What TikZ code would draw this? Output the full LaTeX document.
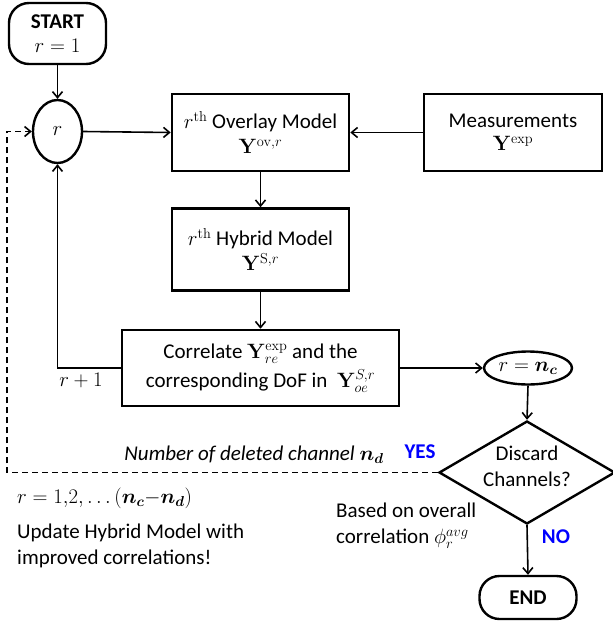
\documentclass[tikz,border=0pt]{standalone}
\usepackage{amsmath}
\usepackage[no-math]{fontspec}
\setmainfont{Carlito}
\usetikzlibrary{shapes.geometric,arrows.meta}
\begin{document}
\begin{tikzpicture}[x=1pt,y=-1pt,
  every node/.style={font=\fontsize{21}{26}\selectfont, inner sep=0pt},
  procbox/.style={draw, line width=2.6pt, rectangle, align=center},
  term/.style={draw, line width=2.4pt, rectangle, rounded corners=20pt, align=center},
  oval/.style={draw, line width=2.4pt, ellipse},
  decide/.style={draw, line width=2.4pt, diamond},
  arr/.style={line width=1.6pt, -{Straight Barb[length=6pt,width=10pt]}},
  lbl/.style={align=left},
  answer/.style={text=blue, font=\fontsize{21}{26}\selectfont\bfseries}
]
\useasboundingbox (0,0) rectangle (613,624);

\node[term, minimum width=97pt, minimum height=61pt] (start) at (57.5,33.5) {\textbf{START}\\[-2pt]$r=1$};
\node[oval, minimum width=49pt, minimum height=63pt] (r) at (57.5,131.5) {$r$};
\node[procbox, minimum width=177pt, minimum height=77pt] (ov) at (260.5,132.5)
  {$r^{\mathrm{th}}$ Overlay Model\\[-1pt]$\mathbf{Y}^{\mathrm{ov},r}$};
\node[procbox, minimum width=178pt, minimum height=77pt] (meas) at (513,132.5)
  {Measurements\\[-3pt]$\mathbf{Y}^{\mathrm{exp}}$};
\node[procbox, minimum width=177pt, minimum height=82pt] (hyb) at (260.5,249.5)
  {$r^{\mathrm{th}}$ Hybrid Model\\[-1pt]$\mathbf{Y}^{\mathrm{S},r}$};
\node[procbox, minimum width=277pt, minimum height=76pt] (cor) at (260.5,368)
  {Correlate $\mathbf{Y}_{re}^{\mathrm{exp}}$ and the\\[3pt]corresponding DoF in\ \ $\mathbf{Y}_{oe}^{S,r}$};
\node[oval, minimum width=88pt, minimum height=33pt] (rnc) at (528,368) {$r=\boldsymbol{n}_{\boldsymbol{c}}$};
\node[decide, minimum width=176pt, minimum height=103pt] (dia) at (527,472.5) {};
\node[align=center] (diatext) at (527,466) {Discard\\Channels?};
\node[term, minimum width=97pt, minimum height=43pt] (end) at (528,597.5) {\textbf{END}};

\coordinate (dl) at (7,472.5);

\draw[arr] (start.south) -- (r.north);
\draw[arr] (r.east) -- (ov.west);
\draw[arr] (meas.west) -- (ov.east);
\draw[arr] (ov.south) -- (hyb.north);
\draw[arr] (hyb.south) -- (cor.north);
\draw[arr] (cor.west) -| (r.south);
\draw[arr] (cor.east) -- (rnc.west);
\draw[arr] (rnc.south) -- (dia.north);
\draw[arr] (dia.south) -- (end.north);
\draw[arr, dashed, dash pattern=on 6pt off 4pt] (dia.west) -- (dl) |- (r.west);

\node (rp1) at (81,380) {$r+1$};
\node (ndel) at (254,455) {\itshape Number of deleted channel $\boldsymbol{n}_{\boldsymbol{d}}$};
\node[answer] (yes) at (420,452) {YES};
\node[answer] (no) at (556,537) {NO};
\node[anchor=west] (rrange) at (17,498) {$r=1{,}2,\ldots(\boldsymbol{n}_{\boldsymbol{c}}{-}\boldsymbol{n}_{\boldsymbol{d}})$};
\node[lbl, anchor=west] (upd) at (17,545.5) {Update Hybrid Model with\\improved correlations!};
\node[lbl, anchor=west] (based) at (336,526) {Based on overall\\correlation $\phi_r^{avg}$};
\end{tikzpicture}
\end{document}
